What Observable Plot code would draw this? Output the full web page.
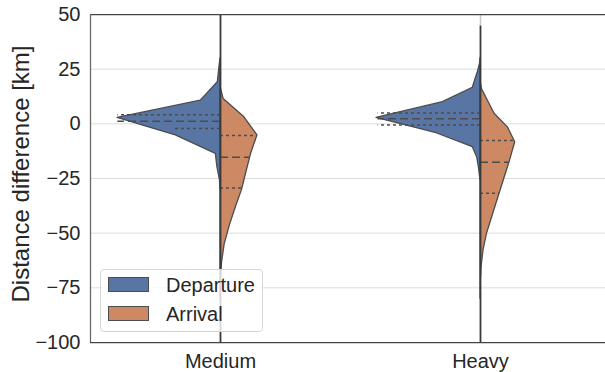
<!DOCTYPE html>
<html>
<head>
<meta charset="utf-8">
<script src="https://cdn.jsdelivr.net/npm/d3@7"></script>
<script src="https://cdn.jsdelivr.net/npm/@observablehq/plot@0.6"></script>
<style>
  html, body { margin: 0; padding: 0; background: #fff; }
  #wrap { position: relative; width: 605px; height: 372px; font-family: "Liberation Sans", Arial, sans-serif; color: #262626; }
  .lg-box { position: absolute; left: 100px; top: 269px; width: 163px; height: 63px; box-sizing: border-box;
            border: 1px solid #d6d6d6; border-radius: 4px; background: rgba(255,255,255,0.8); }
  .lg-sw { position: absolute; left: 108px; width: 41px; height: 15px; box-sizing: border-box; border: 1px solid #4c4c4c; }
  .lg-tx { position: absolute; left: 166px; font-size: 20px; line-height: 20px; white-space: nowrap; }
</style>
</head>
<body>
<div id="wrap"></div>
<script>
// ---- data ----
const categories = ["Medium", "Heavy"];
const seriesNames = ["Departure", "Arrival"];
const seriesColors = ["#5975a4", "#cc8963"];
const yTicks = [-100, -75, -50, -25, 0, 25, 50];
const yLabel = "Distance difference [km]";

// violin profiles: value (km) and relative density (1 = widest half)
const mediumDepartureValues  = [30, 25.9, 19, 10.6, 2.7, -5.3, -13.7, -19.8, -25.9, -30];
const mediumDepartureDensity = [0, 0.01, 0.026, 0.19, 0.99, 0.43, 0.045, 0.03, 0.005, 0];
const mediumArrivalValues    = [16, 11.4, 3.0, -5.3, -13.6, -21.9, -30.2, -38.5, -46.8, -55.1, -63.4, -71.7, -80];
const mediumArrivalDensity   = [0.005, 0.03, 0.23, 0.355, 0.295, 0.25, 0.207, 0.145, 0.088, 0.04, 0.015, 0.003, 0];
const heavyDepartureValues   = [30, 27.4, 23.6, 16.5, 9.9, 2.7, -4.3, -10.7, -15.3, -20, -25.9];
const heavyDepartureDensity  = [0, 0.005, 0.026, 0.074, 0.362, 1.0, 0.423, 0.074, 0.032, 0.015, 0];
const heavyArrivalValues     = [20, 16, 9.1, 4.6, -1.6, -8.4, -17.6, -32, -42.7, -50.3, -57.9, -65.6, -71.7, -80];
const heavyArrivalDensity    = [0, 0.013, 0.087, 0.135, 0.263, 0.334, 0.279, 0.183, 0.112, 0.062, 0.029, 0.01, 0.003, 0];

// quartiles (Q1/median/Q3) and the relative width of each quartile line
const mediumDepartureQuartiles = [4.1, 1.2, -2.1];
const mediumDepartureQWidths   = [0.987, 0.987, 0.435];
const mediumArrivalQuartiles   = [-5.3, -15.3, -29.4];
const mediumArrivalQWidths     = [0.35, 0.28, 0.215];
const heavyDepartureQuartiles  = [5.0, 2.3, -0.5];
const heavyDepartureQWidths    = [0.985, 0.985, 0.985];
const heavyArrivalQuartiles    = [-7.6, -17.6, -31.7];
const heavyArrivalQWidths      = [0.32, 0.279, 0.183];

// data range of each category (the thin centre line), limited to the visible axis
const rangeMin = [-100, -100];
const rangeMax = [50, 45];
// faint (near-zero density) continuation above the range
const faintMax = [50, 50];

// ---- build tables ----
const profiles = [
  [0, 0, mediumDepartureValues, mediumDepartureDensity],
  [0, 1, mediumArrivalValues, mediumArrivalDensity],
  [1, 0, heavyDepartureValues, heavyDepartureDensity],
  [1, 1, heavyArrivalValues, heavyArrivalDensity]
];
const quarts = [
  [0, 0, mediumDepartureQuartiles, mediumDepartureQWidths],
  [0, 1, mediumArrivalQuartiles, mediumArrivalQWidths],
  [1, 0, heavyDepartureQuartiles, heavyDepartureQWidths],
  [1, 1, heavyArrivalQuartiles, heavyArrivalQWidths]
];
const HALF = 0.4; // max half width in band units
const violinRows = profiles.flatMap(([c, s, vals, dens]) =>
  vals.map((v, i) => ({c, s, key: c + "-" + s, v, x2: c + (s === 0 ? -1 : 1) * HALF * dens[i]})));
const quartRows = quarts.flatMap(([c, s, qs, ws]) =>
  qs.map((q, i) => ({c, s, q, median: i === 1, x2: c + (s === 0 ? -1 : 1) * HALF * ws[i]})));
const centerRows = categories.map((name, c) => ({c, lo: rangeMin[c], hi: rangeMax[c], faint: faintMax[c]}));

const plot = Plot.plot({
  width: 605,
  height: 372,
  marginLeft: 90,
  marginRight: 0,
  marginTop: 14,
  marginBottom: 30,
  style: {fontFamily: '"Liberation Sans", Arial, sans-serif', color: "#262626", background: "#fff"},
  x: {domain: [-0.5, 1.4808], axis: null},
  y: {domain: [-100, 50], axis: null},
  marks: [
    Plot.gridY(yTicks, {stroke: "#dcdcdc", strokeOpacity: 1, strokeWidth: 1}),
    Plot.link(centerRows.filter(d => d.faint > d.hi), {x1: "c", x2: "c", y1: "hi", y2: "faint", stroke: "#c8c8c8", strokeWidth: 1.5}),
    Plot.areaX(violinRows, {
      y: "v", x1: "c", x2: "x2", z: "key",
      fill: d => seriesColors[d.s], stroke: "#4c4c4c", strokeWidth: 1.3, strokeLinejoin: "round"
    }),
    Plot.ruleY(quartRows.filter(d => !d.median), {
      y: "q", x1: "c", x2: "x2", stroke: "#4c4c4c", strokeWidth: 1.5, strokeDasharray: "3,3"
    }),
    Plot.ruleY(quartRows.filter(d => d.median), {
      y: "q", x1: "c", x2: "x2", stroke: "#4c4c4c", strokeWidth: 1.5, strokeDasharray: "8,4"
    }),
    Plot.link(centerRows, {x1: "c", x2: "c", y1: "lo", y2: "hi", stroke: "#3a3a3a", strokeWidth: 1.8}),
    Plot.axisY({ticks: yTicks, tickSize: 0, tickPadding: 10, fontSize: 20, tickFormat: d3.format("d"), label: null}),
    Plot.axisX({ticks: [0, 1], tickFormat: i => categories[i], tickSize: 0, tickPadding: 11, fontSize: 20, label: null}),
    Plot.text([yLabel], {frameAnchor: "left", text: d => d, rotate: -90, textAnchor: "middle", lineAnchor: "middle",
                         dx: -69, dy: -4.5, fontSize: 24, fill: "#262626"}),
    Plot.ruleY([50], {stroke: "#444", strokeWidth: 1.25}),
    Plot.ruleY([-100], {stroke: "#444", strokeWidth: 1.25}),
    Plot.ruleX([-0.5], {stroke: "#666", strokeWidth: 1.25})
  ]
});

const wrap = document.getElementById("wrap");
wrap.appendChild(plot);

// legend overlay (inside the plot area, lower left)
const box = document.createElement("div");
box.className = "lg-box";
wrap.appendChild(box);
const swTops = [277, 306];
const txTops = [275, 304];
seriesNames.forEach((name, i) => {
  const sw = document.createElement("div");
  sw.className = "lg-sw";
  sw.style.top = swTops[i] + "px";
  sw.style.background = seriesColors[i];
  wrap.appendChild(sw);
  const tx = document.createElement("div");
  tx.className = "lg-tx";
  tx.style.top = txTops[i] + "px";
  tx.textContent = name;
  wrap.appendChild(tx);
});
</script>
</body>
</html>
